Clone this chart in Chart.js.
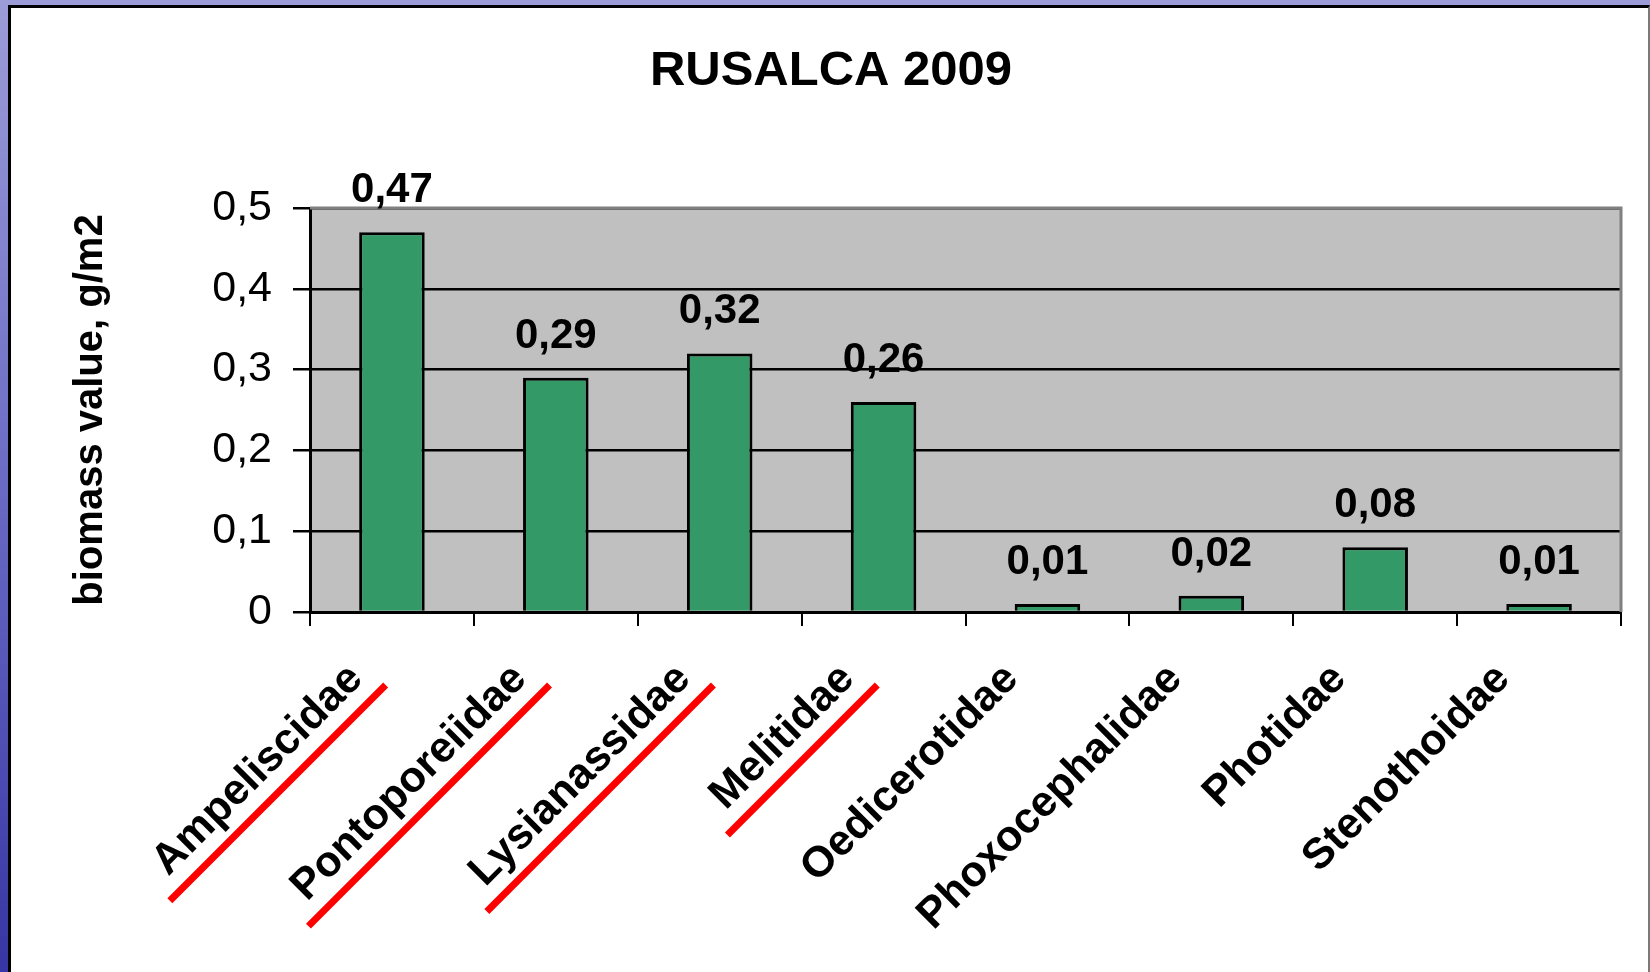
<!DOCTYPE html>
<html>
<head>
<meta charset="utf-8">
<title>RUSALCA 2009</title>
<script src="https://cdn.jsdelivr.net/npm/chart.js@4.4.1/dist/chart.umd.min.js"></script>
<style>
  html, body { margin: 0; padding: 0; }
  body {
    width: 1650px; height: 972px; overflow: hidden; position: relative;
    background: linear-gradient(to bottom, #9c9cd8 0%, #6a6ac4 50%, #3636a4 100%);
  }
  .panel {
    position: absolute; left: 8px; top: 5px; right: 0; bottom: 0;
    background: #fff;
    border-left: 3px solid #000; border-top: 3px solid #000; border-right: 2px solid #7a7a7a;
  }
  #chart { position: absolute; left: 0; top: 0; }
</style>
</head>
<body>
<div class="panel"></div>
<canvas id="chart" width="1650" height="972"></canvas>
<script>
// data
const chartTitle = "RUSALCA 2009";
const families = ["Ampeliscidae", "Pontoporeiidae", "Lysianassidae", "Melitidae",
                  "Oedicerotidae", "Phoxocephalidae", "Photidae", "Stenothoidae"];
const biomass = [0.47, 0.29, 0.32, 0.26, 0.01, 0.02, 0.08, 0.01];
const underlined = ["Ampeliscidae", "Pontoporeiidae", "Lysianassidae", "Melitidae"];
const yTicks = [0, 0.1, 0.2, 0.3, 0.4, 0.5];

const FONT = "'Liberation Sans', Arial, sans-serif";
const LABEL_SIZE = 43;

function komma(v) {
  if (v === 0) return "0";
  return String(v).replace(".", ",");
}

// judul di atas
const titlePlugin = {
  id: "titlePlugin",
  afterDraw(chart) {
    const ctx = chart.ctx;
    ctx.save();
    ctx.font = "bold 49px " + FONT;
    ctx.fillStyle = "#000";
    ctx.textAlign = "center";
    ctx.textBaseline = "middle";
    ctx.fillText(chartTitle, 831, 71);
    ctx.restore();
  }
};

// latar abu-abu + tepi atas & kanan
const plotBorder = {
  id: "plotBorder",
  beforeDraw(chart) {
    const a = chart.chartArea;
    const ctx = chart.ctx;
    ctx.save();
    ctx.fillStyle = "#c0c0c0";
    ctx.fillRect(a.left, a.top, a.right - a.left, a.bottom - a.top);
    ctx.restore();
  },
  afterDatasetsDraw(chart) {
    const a = chart.chartArea;
    const ctx = chart.ctx;
    ctx.save();
    ctx.strokeStyle = "#808080";
    ctx.lineWidth = 3;
    ctx.beginPath();
    ctx.moveTo(a.left, a.top);
    ctx.lineTo(a.right, a.top);
    ctx.lineTo(a.right, a.bottom);
    ctx.stroke();
    ctx.restore();
  }
};

// label nilai di atas batang
const valueLabels = {
  id: "valueLabels",
  afterDatasetsDraw(chart) {
    const ctx = chart.ctx;
    const meta = chart.getDatasetMeta(0);
    ctx.save();
    ctx.font = "bold 42px " + FONT;
    ctx.fillStyle = "#000";
    ctx.textAlign = "center";
    ctx.textBaseline = "alphabetic";
    meta.data.forEach((bar, i) => {
      ctx.fillText(komma(biomass[i]), bar.x, bar.y - 30);
    });
    ctx.restore();
  }
};

// garis merah di bawah nama famili
const redLines = {
  id: "redLines",
  afterDraw(chart) {
    const scale = chart.scales.x;
    const items = scale.getLabelItems(chart.chartArea);
    const ctx = chart.ctx;
    ctx.save();
    ctx.font = "bold " + LABEL_SIZE + "px " + FONT;
    items.forEach((it) => {
      if (!underlined.includes(it.label)) return;
      const w = ctx.measureText(it.label).width;
      const [tx, ty] = it.options.translation;
      const yLine = it.textOffset + LABEL_SIZE * 0.35 + 15;
      ctx.save();
      ctx.translate(tx, ty);
      ctx.rotate(it.options.rotation);
      ctx.strokeStyle = "#ff0000";
      ctx.lineWidth = 7;
      ctx.beginPath();
      ctx.moveTo(-w - 16, yLine);
      ctx.lineTo(12, yLine);
      ctx.stroke();
      ctx.restore();
    });
    ctx.restore();
  }
};

new Chart(document.getElementById("chart"), {
  type: "bar",
  data: {
    labels: families,
    datasets: [{
      data: biomass,
      backgroundColor: "#339966",
      borderColor: "#000",
      borderWidth: 3,
      barPercentage: 0.4,
      categoryPercentage: 1
    }]
  },
  options: {
    responsive: false,
    animation: false,
    layout: { padding: { left: 11, top: 208, right: 29, bottom: 0 } },
    plugins: {
      legend: { display: false },
      tooltip: { enabled: false },
      title: { display: false }
    },
    scales: {
      x: {
        afterFit(s) { s.height = 360; },
        border: { color: "#000", width: 3 },
        grid: { offset: true, drawOnChartArea: false, color: "#000", lineWidth: 2, tickLength: 14 },
        ticks: {
          color: "#000",
          font: { family: FONT, size: LABEL_SIZE, weight: "bold" },
          maxRotation: 45, minRotation: 45,
          padding: 28,
          labelOffset: -36
        }
      },
      y: {
        min: 0, max: 0.5,
        afterFit(s) { s.width = 299; },
        afterBuildTicks(s) { s.ticks = yTicks.map(v => ({ value: v })); },
        border: { color: "#000", width: 3 },
        grid: { color: "#000", lineWidth: 2.5, tickLength: 17 },
        ticks: {
          color: "#000",
          padding: 21,
          font: { family: FONT, size: 43 },
          callback: (v) => komma(v)
        },
        title: {
          display: true,
          text: "biomass value, g/m2",
          color: "#000",
          font: { family: FONT, size: 40, weight: "bold" },
          padding: { top: 56, bottom: 0 }
        }
      }
    }
  },
  plugins: [plotBorder, valueLabels, redLines, titlePlugin]
});
</script>
</body>
</html>
